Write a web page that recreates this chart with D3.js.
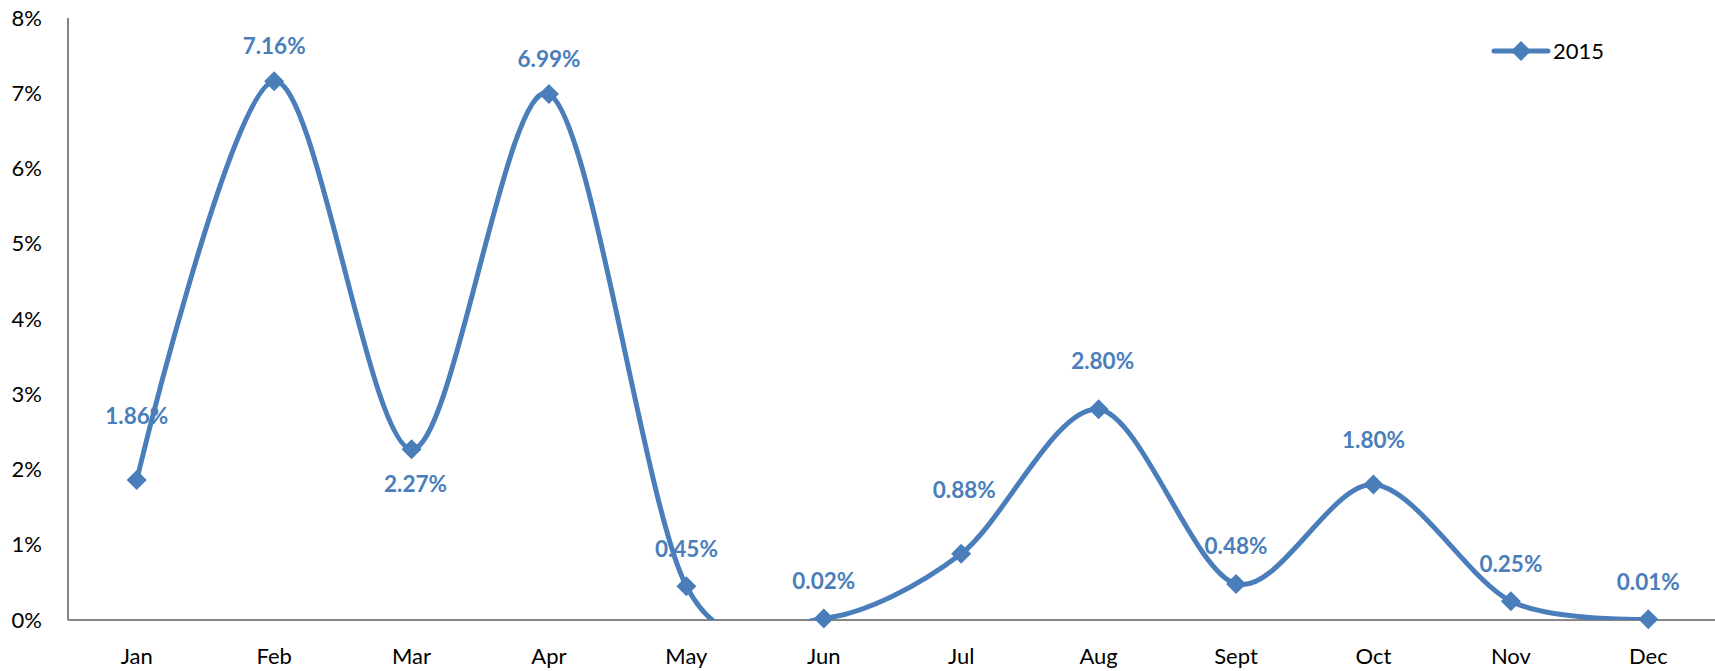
<!DOCTYPE html>
<html><head><meta charset="utf-8">
<script src="https://cdn.jsdelivr.net/npm/d3@7"></script>
<style>body{margin:0;background:#fff}svg{display:block}text{font-family:Lato,"Open Sans",sans-serif}</style>
</head><body><svg id="c" width="1715" height="671"></svg>
<script>
const months = ["Jan","Feb","Mar","Apr","May","Jun","Jul","Aug","Sept","Oct","Nov","Dec"];
const values2015 = [1.86,7.16,2.27,6.99,0.45,0.02,0.88,2.80,0.48,1.80,0.25,0.01];
const yTicks = [0,1,2,3,4,5,6,7,8];
const seriesName = "2015";

const W=1715,H=671, m={l:68,t:18,r:-2,b:51};
const svg=d3.select("#c");
const x=d3.scaleBand().domain(months).range([m.l,W-m.r]);
const y=d3.scaleLinear().domain([0,8]).range([H-m.b,m.t]);
const color="#4a7ebb";

svg.append("clipPath").attr("id","clip").append("rect")
  .attr("x",m.l).attr("y",m.t-20).attr("width",W-m.l+10).attr("height",y(0)-m.t+20);

svg.append("g").selectAll("text").data(yTicks).join("text")
  .attr("x",42).attr("y",d=>y(d)).attr("dy","0.35em").attr("text-anchor","end")
  .attr("font-size",22).attr("fill","#000").text(d=>d+"%");
svg.append("g").selectAll("text").data(months).join("text")
  .attr("x",d=>x(d)+x.bandwidth()/2).attr("y",656).attr("dy","0.35em").attr("text-anchor","middle")
  .attr("font-size",22).attr("fill","#000").text(d=>d);
svg.append("line").attr("x1",m.l).attr("x2",m.l).attr("y1",m.t).attr("y2",y(0)).attr("stroke","#868686").attr("stroke-width",2);
svg.append("line").attr("x1",m.l).attr("x2",W).attr("y1",y(0)).attr("y2",y(0)).attr("stroke","#868686").attr("stroke-width",2);

const cx=(d,i)=>x(months[i])+x.bandwidth()/2;
const line=d3.line().x((d,i)=>cx(d,i)).y(d=>y(d)).curve(d3.curveCardinal.tension(0.08));
svg.append("path").datum(values2015).attr("d",line).attr("fill","none")
  .attr("stroke",color).attr("stroke-width",5).attr("clip-path","url(#clip)");

const diamond="M0,-10L10,0L0,10L-10,0Z";
svg.append("g").selectAll("path").data(values2015).join("path")
  .attr("transform",(d,i)=>`translate(${cx(d,i)},${y(d)})`).attr("d",diamond).attr("fill",color);

const labelDy=[-64,-35,35,-35,-37,-37,-64,-48,-38,-44,-37,-37];
const labelDx=[0,0,4,0,0,0,3,4,0,0,0,0];
svg.append("g").selectAll("text").data(values2015).join("text")
  .attr("x",(d,i)=>cx(d,i)+labelDx[i]).attr("y",(d,i)=>y(d)+labelDy[i]).attr("dy","0.35em")
  .attr("text-anchor","middle").attr("font-size",22.5).attr("font-weight","bold").attr("fill",color)
  .text(d=>d.toFixed(2)+"%");

const lg=svg.append("g");
lg.append("line").attr("x1",1494).attr("x2",1548).attr("y1",51).attr("y2",51).attr("stroke",color).attr("stroke-width",5).attr("stroke-linecap","round");
lg.append("path").attr("transform","translate(1521,51)").attr("d",diamond).attr("fill",color);
lg.append("text").attr("x",1553).attr("y",51).attr("dy","0.35em").attr("font-size",22).attr("fill","#000").text(seriesName);
</script></body></html>
